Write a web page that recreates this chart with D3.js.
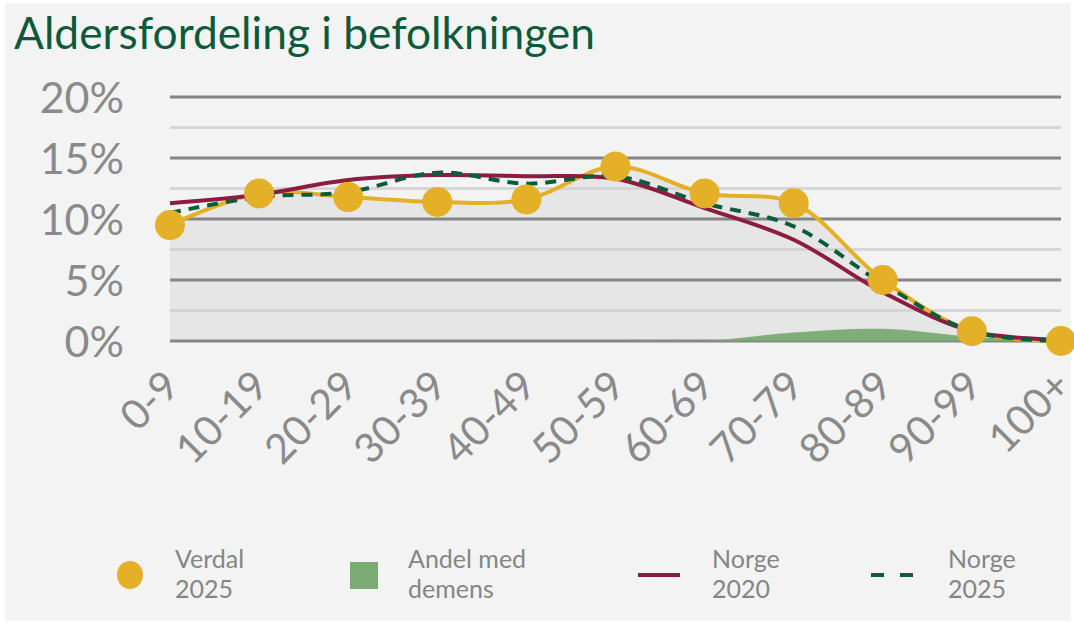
<!DOCTYPE html>
<html>
<head>
<meta charset="utf-8">
<script src="https://cdn.jsdelivr.net/npm/d3@7"></script>
<style>
  html, body { margin: 0; padding: 0; background: #ffffff; }
  svg { display: block; }
  text { font-family: Lato, "Noto Sans", sans-serif; }
</style>
</head>
<body>
<svg id="chart" width="1074" height="623"></svg>
<script>
// Age groups and population shares (percent)
const ageGroups = ["0-9", "10-19", "20-29", "30-39", "40-49", "50-59", "60-69", "70-79", "80-89", "90-99", "100+"];
const verdal2025 = [9.5, 12.1, 11.8, 11.4, 11.6, 14.3, 12.1, 11.3, 5.0, 0.8, 0.0];
const norge2020  = [11.3, 12.0, 13.2, 13.6, 13.5, 13.3, 10.9, 8.3, 4.0, 0.8, 0.1];
const norge2025  = [10.5, 11.8, 12.2, 13.8, 12.9, 13.5, 11.3, 9.4, 4.7, 0.8, 0.0];
const andelDemens = [0, 0, 0, 0, 0, 0, 0.0, 0.7, 1.0, 0.35, 0.0];
const yTicks = [0, 5, 10, 15, 20];
const yMinor = [2.5, 7.5, 12.5, 17.5];

const svg = d3.select("#chart");
const W = 1074, H = 623;

svg.append("rect").attr("x", 5).attr("y", 3).attr("width", W - 8).attr("height", H - 5).attr("fill", "#f3f3f3");

const x = d3.scalePoint().domain(ageGroups).range([170, 1061]);
const y = d3.scaleLinear().domain([0, 20]).range([341, 97]);
const curve = d3.curveCatmullRom.alpha(0.5);

// Title
const title = svg.append("text")
  .attr("x", 14).attr("y", 49)
  .attr("fill", "#0c5a3a")
  .attr("font-size", 100)
  .text("Aldersfordeling i befolkningen");
{
  const w = title.node().getComputedTextLength();
  title.attr("font-size", 100 * 581 / w);
}

// Shaded area under the Verdal series
const area = (vals) => d3.area()
  .x((d, i) => x(ageGroups[i]))
  .y0(y(0))
  .y1(d => y(d))
  .curve(curve)(vals);

svg.append("path").attr("d", area(verdal2025)).attr("fill", "#e6e6e6");

// Gridlines
svg.append("g").selectAll("line").data(yMinor).join("line")
  .attr("x1", 170).attr("x2", 1061)
  .attr("y1", d => y(d)).attr("y2", d => y(d))
  .attr("stroke", "#d2d2d2").attr("stroke-width", 3).attr("opacity", 0.85);
svg.append("g").selectAll("line").data(yTicks).join("line")
  .attr("x1", 170).attr("x2", 1061)
  .attr("y1", d => y(d)).attr("y2", d => y(d))
  .attr("stroke", "#858585").attr("stroke-width", 3);

// Dementia share
svg.append("path").attr("d", area(andelDemens)).attr("fill", "#7aab73").attr("opacity", 0.95);

// Y axis labels
const yAxis = d3.axisLeft(y).tickValues(yTicks).tickFormat(d => d + "%").tickSize(0).tickPadding(0);
const gy = svg.append("g").attr("transform", "translate(124,0)").call(yAxis);
gy.select(".domain").remove();
gy.selectAll("text").attr("fill", "#8a8a8a").attr("font-size", 43).attr("font-family", "Lato, 'Noto Sans', sans-serif").attr("dy", "0.36em");

// X axis labels
const xAxis = d3.axisBottom(x).tickSize(0).tickPadding(0);
const gx = svg.append("g").attr("transform", "translate(0,378)").call(xAxis);
gx.select(".domain").remove();
gx.selectAll("text")
  .attr("fill", "#8a8a8a").attr("font-size", 41).attr("font-family", "Lato, 'Noto Sans', sans-serif")
  .attr("text-anchor", "end").attr("dy", "0.7em")
  .attr("transform", "translate(-9,-10) rotate(-45)");

// Lines
const line = (vals) => d3.line().x((d, i) => x(ageGroups[i])).y(d => y(d)).curve(curve)(vals);

svg.append("path").attr("d", line(verdal2025)).attr("fill", "none").attr("stroke", "#e3b028").attr("stroke-width", 4);
svg.append("path").attr("d", line(norge2020)).attr("fill", "none").attr("stroke", "#8c1c40").attr("stroke-width", 4);
svg.append("path").attr("d", line(norge2025)).attr("fill", "none").attr("stroke", "#0b5c3a").attr("stroke-width", 4).attr("stroke-dasharray", "11,8");

svg.append("g").selectAll("circle").data(verdal2025).join("circle")
  .attr("cx", (d, i) => x(ageGroups[i])).attr("cy", d => y(d)).attr("r", 15)
  .attr("fill", "#e3b028");

// Legend
const lg = svg.append("g");
const legendText = (x0, l1, l2) => {
  const t = lg.append("text").attr("fill", "#858585").attr("font-size", 25);
  t.append("tspan").attr("x", x0).attr("y", 568).text(l1);
  t.append("tspan").attr("x", x0).attr("y", 598).text(l2);
};
lg.append("ellipse").attr("cx", 130).attr("cy", 575).attr("rx", 13).attr("ry", 14).attr("fill", "#e3b028");
legendText(175, "Verdal", "2025");
lg.append("rect").attr("x", 350).attr("y", 562).attr("width", 28).attr("height", 27).attr("fill", "#7aab73");
legendText(408, "Andel med", "demens");
lg.append("line").attr("x1", 638).attr("x2", 680).attr("y1", 575).attr("y2", 575).attr("stroke", "#8c1c40").attr("stroke-width", 4);
legendText(712, "Norge", "2020");
lg.append("line").attr("x1", 871).attr("x2", 913).attr("y1", 575).attr("y2", 575).attr("stroke", "#0b5c3a").attr("stroke-width", 4).attr("stroke-dasharray", "13,16");
legendText(948, "Norge", "2025");
</script>
</body>
</html>
